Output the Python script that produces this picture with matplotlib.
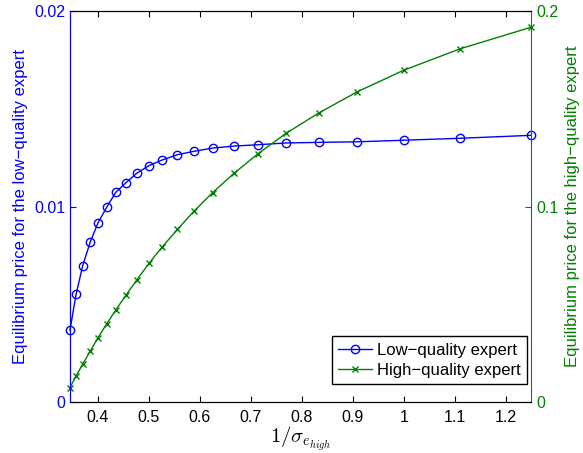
import numpy as np
import matplotlib.pyplot as plt

plt.rcParams['font.family'] = ['Liberation Sans', 'DejaVu Sans']
plt.rcParams['mathtext.fontset'] = 'cm'

# x = 1/sigma_e_high
inv_sigma = [0.345, 0.357, 0.370, 0.385, 0.400, 0.417, 0.435, 0.455, 0.476, 0.500, 0.526,
             0.556, 0.588, 0.625, 0.667, 0.714, 0.769, 0.833, 0.909, 1.000, 1.111, 1.250]
price_low = [0.00368, 0.00550, 0.00697, 0.00820, 0.00916, 0.00996, 0.01073, 0.01122,
             0.01170, 0.01209, 0.01238, 0.01265, 0.01282, 0.01299, 0.01309, 0.01316,
             0.01325, 0.01328, 0.01331, 0.01339, 0.01349, 0.01364]
price_high = [0.0073, 0.0133, 0.0193, 0.0261, 0.0329, 0.0399, 0.0471, 0.0547, 0.0624,
              0.0709, 0.0793, 0.0883, 0.0975, 0.1071, 0.1170, 0.1270, 0.1374, 0.1478,
              0.1587, 0.1697, 0.1807, 0.1917]

blue = (0, 0, 1)
green = (0, 0.5, 0)

fig = plt.figure(figsize=(5.83, 4.53), dpi=100)
ax = fig.add_axes([0.120, 0.1126, 0.791, 0.8631])
ax2 = ax.twinx()

l1, = ax.plot(inv_sigma, price_low, '-o', color=blue, lw=1, markersize=6,
              markerfacecolor='none', markeredgewidth=1, clip_on=False,
              label='Low\u2212quality expert')
l2, = ax2.plot(inv_sigma, price_high, '-x', color=green, lw=1, markersize=4,
               markeredgewidth=1, clip_on=False, label='High\u2212quality expert')

ax.set_xlim(0.345, 1.25)
ax.set_ylim(0, 0.02)
ax2.set_ylim(0, 0.2)
ax.set_xticks([0.4, 0.5, 0.6, 0.7, 0.8, 0.9, 1, 1.1, 1.2])
ax.set_xticklabels(['0.4', '0.5', '0.6', '0.7', '0.8', '0.9', '1', '1.1', '1.2'])
ax.set_yticks([0, 0.01, 0.02])
ax.set_yticklabels(['0', '0.01', '0.02'])
ax2.set_yticks([0, 0.1, 0.2])
ax2.set_yticklabels(['0', '0.1', '0.2'])

ax.tick_params(axis='x', direction='in', top=True, labelsize=11.5, length=4, pad=6)
ax.tick_params(axis='y', direction='in', colors=blue, labelsize=11.5, length=4)
ax2.tick_params(axis='y', direction='in', colors=green, labelsize=11.5, length=4)

ax.spines['left'].set_color(blue)
ax2.spines['left'].set_color(blue)
ax2.spines['right'].set_color('#1f5f7f')
ax.spines['right'].set_visible(False)

ax.set_xlabel(r'$1/\sigma_{e_{high}}$', fontsize=15, labelpad=0)
ax.set_ylabel('Equilibrium price for the low\u2212quality expert', color=blue, fontsize=12, labelpad=4)
ax2.set_ylabel('Equilibrium price for the high\u2212quality expert', color=green, fontsize=12, labelpad=5)

leg = ax2.legend([l1, l2], [l1.get_label(), l2.get_label()], loc='lower right',
                 fontsize=12, fancybox=False, edgecolor='black', framealpha=1,
                 numpoints=1, handlelength=2.0, borderpad=0.4, labelspacing=0.3,
                 handletextpad=0.3, borderaxespad=0, bbox_to_anchor=(0.991, 0.045))
leg.get_frame().set_linewidth(1)

fig.savefig('out.png', dpi=100)
